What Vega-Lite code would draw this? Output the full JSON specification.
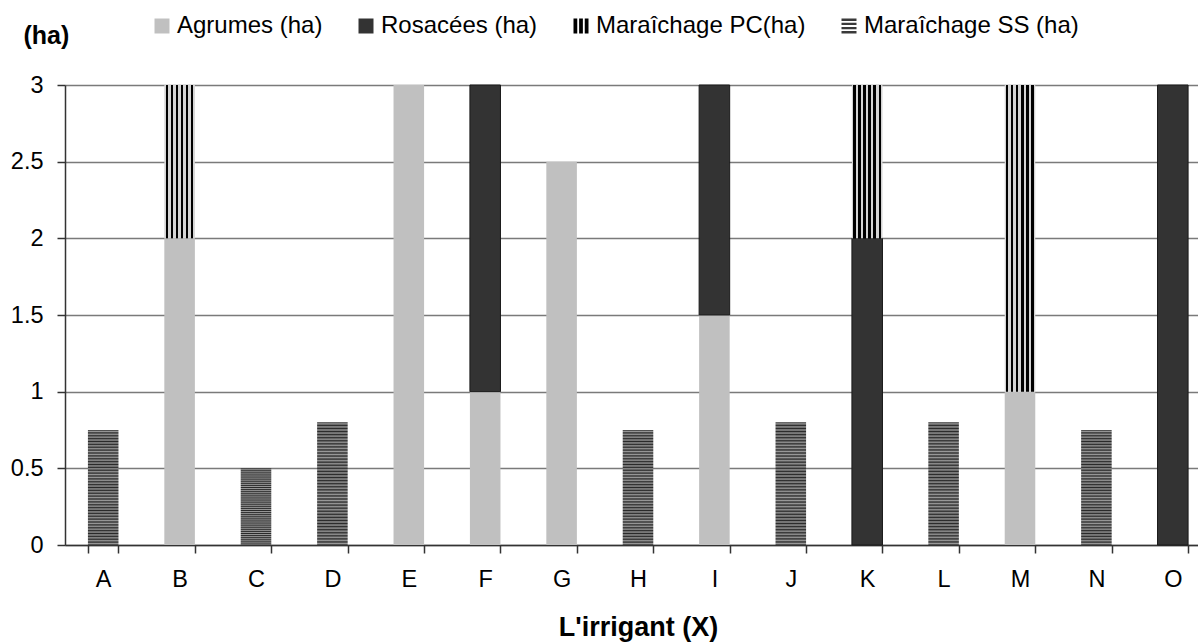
{
  "$schema": "https://vega.github.io/schema/vega-lite/v6.json",
  "autosize": {"type": "none"},
  "width": 1133,
  "height": 460,
  "padding": {"left": 65, "top": 85, "right": 0, "bottom": 99},
  "background": "white",
  "config": {
    "font": "Liberation Sans",
    "view": {"stroke": null}
  },
  "data": {
    "values": [
      {"irrigant": "A", "serie": "Maraîchage SS (ha)", "ordre": 4, "ha": 0.75},
      {"irrigant": "B", "serie": "Agrumes (ha)", "ordre": 1, "ha": 2},
      {"irrigant": "B", "serie": "Maraîchage PC(ha)", "ordre": 3, "ha": 1},
      {"irrigant": "C", "serie": "Maraîchage SS (ha)", "ordre": 4, "ha": 0.5},
      {"irrigant": "D", "serie": "Maraîchage SS (ha)", "ordre": 4, "ha": 0.8},
      {"irrigant": "E", "serie": "Agrumes (ha)", "ordre": 1, "ha": 3},
      {"irrigant": "F", "serie": "Agrumes (ha)", "ordre": 1, "ha": 1},
      {"irrigant": "F", "serie": "Rosacées (ha)", "ordre": 2, "ha": 2},
      {"irrigant": "G", "serie": "Agrumes (ha)", "ordre": 1, "ha": 2.5},
      {"irrigant": "H", "serie": "Maraîchage SS (ha)", "ordre": 4, "ha": 0.75},
      {"irrigant": "I", "serie": "Agrumes (ha)", "ordre": 1, "ha": 1.5},
      {"irrigant": "I", "serie": "Rosacées (ha)", "ordre": 2, "ha": 1.5},
      {"irrigant": "J", "serie": "Maraîchage SS (ha)", "ordre": 4, "ha": 0.8},
      {"irrigant": "K", "serie": "Rosacées (ha)", "ordre": 2, "ha": 2},
      {"irrigant": "K", "serie": "Maraîchage PC(ha)", "ordre": 3, "ha": 1},
      {"irrigant": "L", "serie": "Maraîchage SS (ha)", "ordre": 4, "ha": 0.8},
      {"irrigant": "M", "serie": "Agrumes (ha)", "ordre": 1, "ha": 1},
      {"irrigant": "M", "serie": "Maraîchage PC(ha)", "ordre": 3, "ha": 2},
      {"irrigant": "N", "serie": "Maraîchage SS (ha)", "ordre": 4, "ha": 0.75},
      {"irrigant": "O", "serie": "Rosacées (ha)", "ordre": 2, "ha": 3}
    ]
  },
  "transform": [
    {"stack": "ha", "groupby": ["irrigant"], "sort": [{"field": "ordre", "order": "ascending"}], "as": ["y0", "y1"]}
  ],
  "encoding": {
    "x": {
      "field": "irrigant",
      "type": "nominal",
      "sort": ["A", "B", "C", "D", "E", "F", "G", "H", "I", "J", "K", "L", "M", "N", "O"],
      "scale": {"range": [0, 1146], "paddingInner": 0.6, "paddingOuter": 0.3},
      "axis": {
        "title": "L'irrigant (X)",
        "titleFont": "Liberation Sans",
        "titleFontSize": 27,
        "titleFontWeight": "bold",
        "titleColor": "#000",
        "titleX": 573,
        "titleY": 90,
        "titleAlign": "center",
        "titleBaseline": "alphabetic",
        "labelAngle": 0,
        "labelFontSize": 23.5,
        "labelColor": "#000",
        "labelPadding": 14,
        "tickBand": "extent",
        "tickSize": 8,
        "tickColor": "#333",
        "tickWidth": 1.5,
        "domainColor": "#333",
        "domainWidth": 1.5,
        "grid": false
      }
    },
    "y": {
      "field": "y1",
      "type": "quantitative",
      "scale": {"domain": [0, 3], "nice": false},
      "axis": {
        "values": [0, 0.5, 1, 1.5, 2, 2.5, 3],
        "format": "~g",
        "title": "(ha)",
        "titleAngle": 0,
        "titleFontSize": 25,
        "titleFontWeight": "bold",
        "titleColor": "#000",
        "titleX": -42,
        "titleY": -50,
        "titleAlign": "left",
        "titleBaseline": "middle",
        "labelFontSize": 23.5,
        "labelColor": "#000",
        "labelPadding": 14,
        "tickSize": 8,
        "tickColor": "#333",
        "tickWidth": 1.5,
        "domainColor": "#333",
        "domainWidth": 1.5,
        "grid": true,
        "gridColor": "#7a7a7a",
        "gridWidth": 1.5
      }
    }
  },
  "layer": [
    {
      "transform": [{"filter": "datum.serie === 'Agrumes (ha)'"}],
      "mark": {"type": "bar", "fill": "#c0c0c0"},
      "encoding": {"y2": {"field": "y0"}}
    },
    {
      "transform": [{"filter": "datum.serie === 'Rosacées (ha)'"}],
      "mark": {"type": "bar", "fill": "#333333", "stroke": "#1a1a1a", "strokeWidth": 1},
      "encoding": {"y2": {"field": "y0"}}
    },
    {
      "transform": [{"filter": "datum.serie === 'Maraîchage PC(ha)'"}],
      "mark": {
        "type": "bar",
        "fill": {
          "gradient": "linear",
          "x1": 0, "y1": 0, "x2": 1, "y2": 0,
          "stops": [
            {"offset": 0, "color": "#d4d4d4"},
            {"offset": 0.05, "color": "#d4d4d4"},
            {"offset": 0.05, "color": "#000000"},
            {"offset": 0.12, "color": "#000000"},
            {"offset": 0.12, "color": "#d4d4d4"},
            {"offset": 0.21, "color": "#d4d4d4"},
            {"offset": 0.21, "color": "#000000"},
            {"offset": 0.285, "color": "#000000"},
            {"offset": 0.285, "color": "#d4d4d4"},
            {"offset": 0.375, "color": "#d4d4d4"},
            {"offset": 0.375, "color": "#000000"},
            {"offset": 0.45, "color": "#000000"},
            {"offset": 0.45, "color": "#d4d4d4"},
            {"offset": 0.54, "color": "#d4d4d4"},
            {"offset": 0.54, "color": "#000000"},
            {"offset": 0.615, "color": "#000000"},
            {"offset": 0.615, "color": "#d4d4d4"},
            {"offset": 0.705, "color": "#d4d4d4"},
            {"offset": 0.705, "color": "#000000"},
            {"offset": 0.78, "color": "#000000"},
            {"offset": 0.78, "color": "#d4d4d4"},
            {"offset": 0.87, "color": "#d4d4d4"},
            {"offset": 0.87, "color": "#000000"},
            {"offset": 0.945, "color": "#000000"},
            {"offset": 0.945, "color": "#d4d4d4"},
            {"offset": 1, "color": "#d4d4d4"}
          ]
        }
      },
      "encoding": {"y2": {"field": "y0"}}
    },
    {
      "transform": [{"filter": "datum.serie === 'Maraîchage SS (ha)'"}],
      "mark": {
        "type": "bar",
        "fill": {
          "gradient": "linear",
          "x1": 0, "y1": 0, "x2": 0, "y2": 1,
          "stops": [
            {"offset": 0, "color": "#2a2a2a"},
            {"offset": 0.0125, "color": "#9a9a9a"},
            {"offset": 0.025, "color": "#2a2a2a"},
            {"offset": 0.0375, "color": "#9a9a9a"},
            {"offset": 0.05, "color": "#2a2a2a"},
            {"offset": 0.0625, "color": "#9a9a9a"},
            {"offset": 0.075, "color": "#2a2a2a"},
            {"offset": 0.0875, "color": "#9a9a9a"},
            {"offset": 0.1, "color": "#2a2a2a"},
            {"offset": 0.1125, "color": "#9a9a9a"},
            {"offset": 0.125, "color": "#2a2a2a"},
            {"offset": 0.1375, "color": "#9a9a9a"},
            {"offset": 0.15, "color": "#2a2a2a"},
            {"offset": 0.1625, "color": "#9a9a9a"},
            {"offset": 0.175, "color": "#2a2a2a"},
            {"offset": 0.1875, "color": "#9a9a9a"},
            {"offset": 0.2, "color": "#2a2a2a"},
            {"offset": 0.2125, "color": "#9a9a9a"},
            {"offset": 0.225, "color": "#2a2a2a"},
            {"offset": 0.2375, "color": "#9a9a9a"},
            {"offset": 0.25, "color": "#2a2a2a"},
            {"offset": 0.2625, "color": "#9a9a9a"},
            {"offset": 0.275, "color": "#2a2a2a"},
            {"offset": 0.2875, "color": "#9a9a9a"},
            {"offset": 0.3, "color": "#2a2a2a"},
            {"offset": 0.3125, "color": "#9a9a9a"},
            {"offset": 0.325, "color": "#2a2a2a"},
            {"offset": 0.3375, "color": "#9a9a9a"},
            {"offset": 0.35, "color": "#2a2a2a"},
            {"offset": 0.3625, "color": "#9a9a9a"},
            {"offset": 0.375, "color": "#2a2a2a"},
            {"offset": 0.3875, "color": "#9a9a9a"},
            {"offset": 0.4, "color": "#2a2a2a"},
            {"offset": 0.4125, "color": "#9a9a9a"},
            {"offset": 0.425, "color": "#2a2a2a"},
            {"offset": 0.4375, "color": "#9a9a9a"},
            {"offset": 0.45, "color": "#2a2a2a"},
            {"offset": 0.4625, "color": "#9a9a9a"},
            {"offset": 0.475, "color": "#2a2a2a"},
            {"offset": 0.4875, "color": "#9a9a9a"},
            {"offset": 0.5, "color": "#2a2a2a"},
            {"offset": 0.5125, "color": "#9a9a9a"},
            {"offset": 0.525, "color": "#2a2a2a"},
            {"offset": 0.5375, "color": "#9a9a9a"},
            {"offset": 0.55, "color": "#2a2a2a"},
            {"offset": 0.5625, "color": "#9a9a9a"},
            {"offset": 0.575, "color": "#2a2a2a"},
            {"offset": 0.5875, "color": "#9a9a9a"},
            {"offset": 0.6, "color": "#2a2a2a"},
            {"offset": 0.6125, "color": "#9a9a9a"},
            {"offset": 0.625, "color": "#2a2a2a"},
            {"offset": 0.6375, "color": "#9a9a9a"},
            {"offset": 0.65, "color": "#2a2a2a"},
            {"offset": 0.6625, "color": "#9a9a9a"},
            {"offset": 0.675, "color": "#2a2a2a"},
            {"offset": 0.6875, "color": "#9a9a9a"},
            {"offset": 0.7, "color": "#2a2a2a"},
            {"offset": 0.7125, "color": "#9a9a9a"},
            {"offset": 0.725, "color": "#2a2a2a"},
            {"offset": 0.7375, "color": "#9a9a9a"},
            {"offset": 0.75, "color": "#2a2a2a"},
            {"offset": 0.7625, "color": "#9a9a9a"},
            {"offset": 0.775, "color": "#2a2a2a"},
            {"offset": 0.7875, "color": "#9a9a9a"},
            {"offset": 0.8, "color": "#2a2a2a"},
            {"offset": 0.8125, "color": "#9a9a9a"},
            {"offset": 0.825, "color": "#2a2a2a"},
            {"offset": 0.8375, "color": "#9a9a9a"},
            {"offset": 0.85, "color": "#2a2a2a"},
            {"offset": 0.8625, "color": "#9a9a9a"},
            {"offset": 0.875, "color": "#2a2a2a"},
            {"offset": 0.8875, "color": "#9a9a9a"},
            {"offset": 0.9, "color": "#2a2a2a"},
            {"offset": 0.9125, "color": "#9a9a9a"},
            {"offset": 0.925, "color": "#2a2a2a"},
            {"offset": 0.9375, "color": "#9a9a9a"},
            {"offset": 0.95, "color": "#2a2a2a"},
            {"offset": 0.9625, "color": "#9a9a9a"},
            {"offset": 0.975, "color": "#2a2a2a"},
            {"offset": 0.9875, "color": "#9a9a9a"},
            {"offset": 1, "color": "#2a2a2a"}
          ]
        }
      },
      "encoding": {"y2": {"field": "y0"}}
    },
    {
      "mark": {"type": "point", "filled": true, "opacity": 0, "strokeWidth": 0},
      "encoding": {
        "color": {
          "field": "serie",
          "type": "nominal",
          "scale": {
            "domain": ["Agrumes (ha)", "Rosacées (ha)", "Maraîchage PC(ha)", "Maraîchage SS (ha)"],
            "range": ["#c0c0c0", "#333333", "#000000", "#3a3a3a"]
          },
          "legend": {
            "title": null,
            "orient": "none",
            "direction": "horizontal",
            "legendX": 85,
            "legendY": -71,
            "symbolSize": 225,
            "symbolOpacity": 1,
            "symbolStrokeWidth": 0,
            "labelFontSize": 24,
            "labelLimit": 400,
            "labelColor": "#000",
            "labelOffset": 3,
            "columnPadding": 31
          }
        },
        "shape": {
          "field": "serie",
          "type": "nominal",
          "scale": {
            "domain": ["Agrumes (ha)", "Rosacées (ha)", "Maraîchage PC(ha)", "Maraîchage SS (ha)"],
            "range": [
              "square",
              "square",
              "M-1,-1H-0.5V1H-1Z M-0.25,-1H0.25V1H-0.25Z M0.5,-1H1V1H0.5Z",
              "M-1,-1H1V-0.68H-1Z M-1,-0.44H1V-0.12H-1Z M-1,0.12H1V0.44H-1Z M-1,0.68H1V1H-1Z"
            ]
          },
          "legend": {
            "title": null,
            "orient": "none",
            "direction": "horizontal",
            "legendX": 85,
            "legendY": -71,
            "symbolSize": 225,
            "symbolOpacity": 1,
            "symbolStrokeWidth": 0,
            "labelFontSize": 24,
            "labelLimit": 400,
            "labelColor": "#000",
            "labelOffset": 3,
            "columnPadding": 31
          }
        }
      }
    }
  ]
}
